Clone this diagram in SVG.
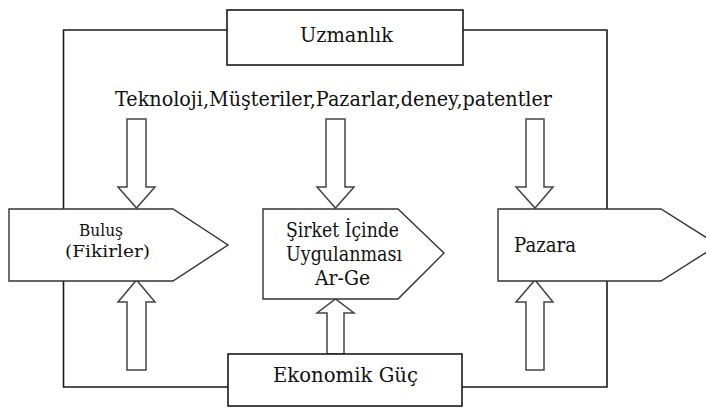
<svg xmlns="http://www.w3.org/2000/svg" width="706" height="408" viewBox="0 0 706 408">
<style>
.bg{fill:#fff}
.frame{fill:none;stroke:#1a1a1a;stroke-width:1.6}
.box{fill:#fff;stroke:#1a1a1a;stroke-width:1.6}
.shape{fill:#fff;stroke:#333;stroke-width:1.4;stroke-linejoin:miter}
.arrow{fill:#fff;stroke:#444;stroke-width:1.5;stroke-linejoin:miter}
.t{font-family:"DejaVu Serif","Noto Serif",serif;font-size:21px;fill:#111}
.m{font-size:20px}
.s{font-size:17.5px}
</style>
<rect class="bg" x="0" y="0" width="706" height="408"/>
<g id="connectors">
  <polyline class="frame" points="227,30 63.5,30 63.5,387 228,387"/>
  <polyline class="frame" points="463,30 607,30 607,387 462,387"/>
  <polygon class="arrow" points="127,119 146,119 146,187 155,187 136.5,208 118,187 127,187"/>
  <polygon class="arrow" points="326,119 345,119 345,187 354,187 335.5,208 317,187 326,187"/>
  <polygon class="arrow" points="526,119 544,119 544,187 553,187 535,208 516,187 526,187"/>
  <polygon class="arrow" points="127,370 146,370 146,302 155,302 136.5,280 118,302 127,302"/>
  <polygon class="arrow" points="327,354 344,354 344,313 354,313 335.5,299 317,313 327,313"/>
  <polygon class="arrow" points="526,370 544,370 544,302 553,302 535,280 516,302 526,302"/>
</g>
<g id="uzmanlik">
  <rect class="box" x="227" y="10" width="236" height="55"/>
  <text class="t" x="300" y="42" textLength="93" lengthAdjust="spacingAndGlyphs">Uzmanlık</text>
</g>
<g id="kaynaklar">
  <text class="t" x="115" y="106" textLength="437" lengthAdjust="spacingAndGlyphs">Teknoloji,Müşteriler,Pazarlar,deney,patentler</text>
</g>
<g id="bulus">
  <path class="shape" d="M9,209 L173,209 L228,245 L173,281 L9,281 Z"/>
  <text class="t s" x="79" y="236" textLength="44" lengthAdjust="spacingAndGlyphs">Buluş</text>
  <text class="t s" x="65" y="257" textLength="85" lengthAdjust="spacingAndGlyphs">(Fikirler)</text>
</g>
<g id="sirket">
  <path class="shape" d="M263,209 L398,209 L444,253 L398,299 L263,299 Z"/>
  <text class="t m" x="286" y="237" textLength="113" lengthAdjust="spacingAndGlyphs">Şirket İçinde</text>
  <text class="t m" x="286" y="261" textLength="116" lengthAdjust="spacingAndGlyphs">Uygulanması</text>
  <text class="t m" x="315" y="285" textLength="55" lengthAdjust="spacingAndGlyphs">Ar-Ge</text>
</g>
<g id="pazara">
  <path class="shape" d="M498,209 L661,209 L718,245 L661,281 L498,281 Z"/>
  <text class="t" x="514" y="252" textLength="62" lengthAdjust="spacingAndGlyphs">Pazara</text>
</g>
<g id="ekonomik">
  <rect class="box" x="228" y="354" width="234" height="52"/>
  <text class="t" x="273" y="382" textLength="145" lengthAdjust="spacingAndGlyphs">Ekonomik Güç</text>
</g>
</svg>
